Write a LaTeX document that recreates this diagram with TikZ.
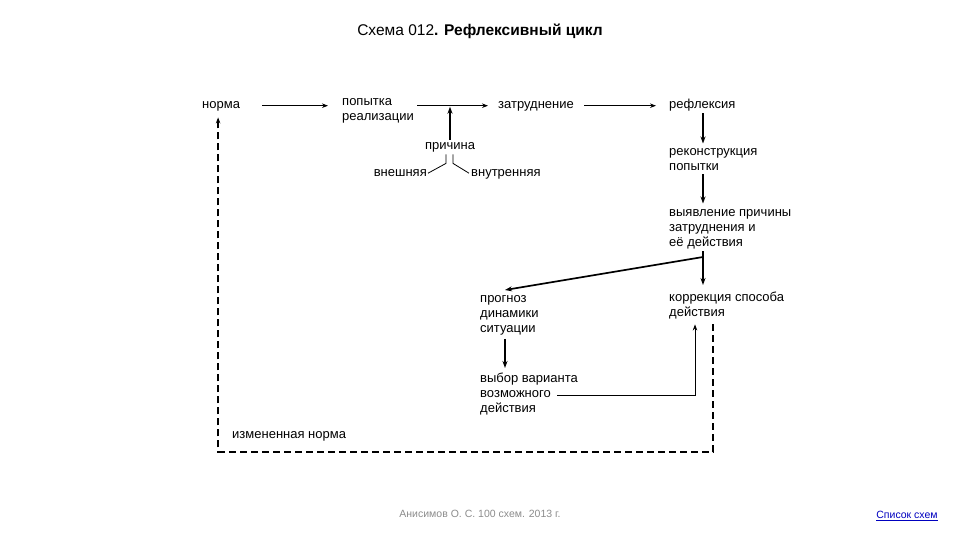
\documentclass[tikz,border=0pt]{standalone}
\usepackage{fontspec}
\setmainfont{Liberation Sans}
\usetikzlibrary{arrows.meta,positioning}
\colorlet{linkblue}{blue!75!black}
\tikzstyle{txt}=[inner sep=0pt, anchor=north west, align=left,
  font=\fontsize{13}{15}\selectfont, execute at begin node=\strut,
  execute at end node=\strut]
\tikzstyle{thin}=[->, line width=.8pt]
\tikzstyle{bold}=[->, line width=1.7pt, >={Stealth[length=7pt,width=5pt]}]
\tikzstyle{back}=[->, line width=1.3pt, dash pattern=on 7pt off 4pt]

\begin{document}
\begin{tikzpicture}[x=1pt, y=-1pt, >={Stealth[length=6pt,width=4.5pt]}]
  \useasboundingbox (0,0) rectangle (960,540);

  \node[font=\fontsize{15.5}{17}\selectfont, inner sep=0pt] (head) at (480,31)
    {Схема 012\textbf{. Рефлексивный цикл}};

  \node[txt] (norma) at (202,98) {норма};
  \node[txt] (pop) at (342,98) {попытка\\реализации};
  \node[txt] (zatr) at (498,98) {затруднение};
  \node[txt] (refl) at (669,98) {рефлексия};
  \node[txt] (rekon) at (669,148.5) {реконструкция\\попытки};
  \node[txt] (vyyav) at (669,209.5) {выявление причины\\затруднения и\\её действия};
  \node[txt] (korr) at (669,292) {коррекция способа\\действия};
  \node[txt] (prog) at (480,295) {прогноз\\динамики\\ситуации};
  \node[txt] (vybor) at (480,373) {выбор варианта\\возможного\\действия};
  \node[txt] (izm) at (232,428) {измененная норма};

  \node[txt, anchor=north] (prich) at (450,139) {причина};
  \node[txt, anchor=north east] (vnesh) at (427,165.5) {внешняя};
  \node[txt] (vnutr) at (471,165.5) {внутренняя};

  \node[font=\fontsize{10.5}{12}\selectfont, text=black!45, inner sep=0pt] (author)
    at (480,514) {Анисимов О. С. 100 схем. 2013 г.};
  \node[font=\fontsize{10.5}{12}\selectfont, text=linkblue, inner sep=0pt] (list)
    at (907,516) {\underline{Список схем}};

  \coordinate (split) at (703,257);
  \coordinate (bottom) at (0,452);

  % upper row
  \draw[thin, shorten <=22pt, shorten >=14pt] (norma.east) -- (norma.east -| pop.west);
  \draw[thin, shorten <=3pt, shorten >=10pt] (pop.north east |- norma.east) -- (zatr.west);
  \draw[thin, shorten <=10pt, shorten >=13pt] (zatr.east) -- (refl.west);

  % cause
  \draw[bold, shorten <=-1pt, shorten >=1pt] (prich.north) -- (prich.north |- norma.east);
  \draw[line width=.8pt] ([xshift=-4pt]prich.south) -- ++(0,9) -- ([xshift=1pt]vnesh.east);
  \draw[line width=.8pt] ([xshift=3pt]prich.south) -- ++(0,9) -- ([xshift=-2pt]vnutr.west);

  % right column
  \draw[bold, shorten >=5pt] (split |- refl.south) -- (split |- rekon.north);
  \draw[bold, shorten <=-1pt, shorten >=6pt] (split |- rekon.south) -- (split |- vyyav.north);
  \draw[bold, shorten >=7pt] (split) -- (split |- korr.north);
  \draw[bold] (split) -- ([xshift=25pt,yshift=5pt]prog.north west);
  \draw[line width=1.7pt] (split |- vyyav.south) -- (split);

  % lower branch
  \draw[bold, shorten <=2pt, shorten >=5pt] ([xshift=25pt]prog.south west) -- ([xshift=25pt]vybor.north west);
  \draw[thin, shorten >=3pt] ([xshift=77pt]vybor.west) -| ([xshift=26pt]korr.south west);

  % back to the norm
  \draw[back, shorten <=3pt, shorten >=4pt] ([xshift=44pt]korr.south west)
    -- ([xshift=44pt]korr.south west |- bottom) -| ([xshift=-3pt]norma.south);

\end{tikzpicture}
\end{document}
